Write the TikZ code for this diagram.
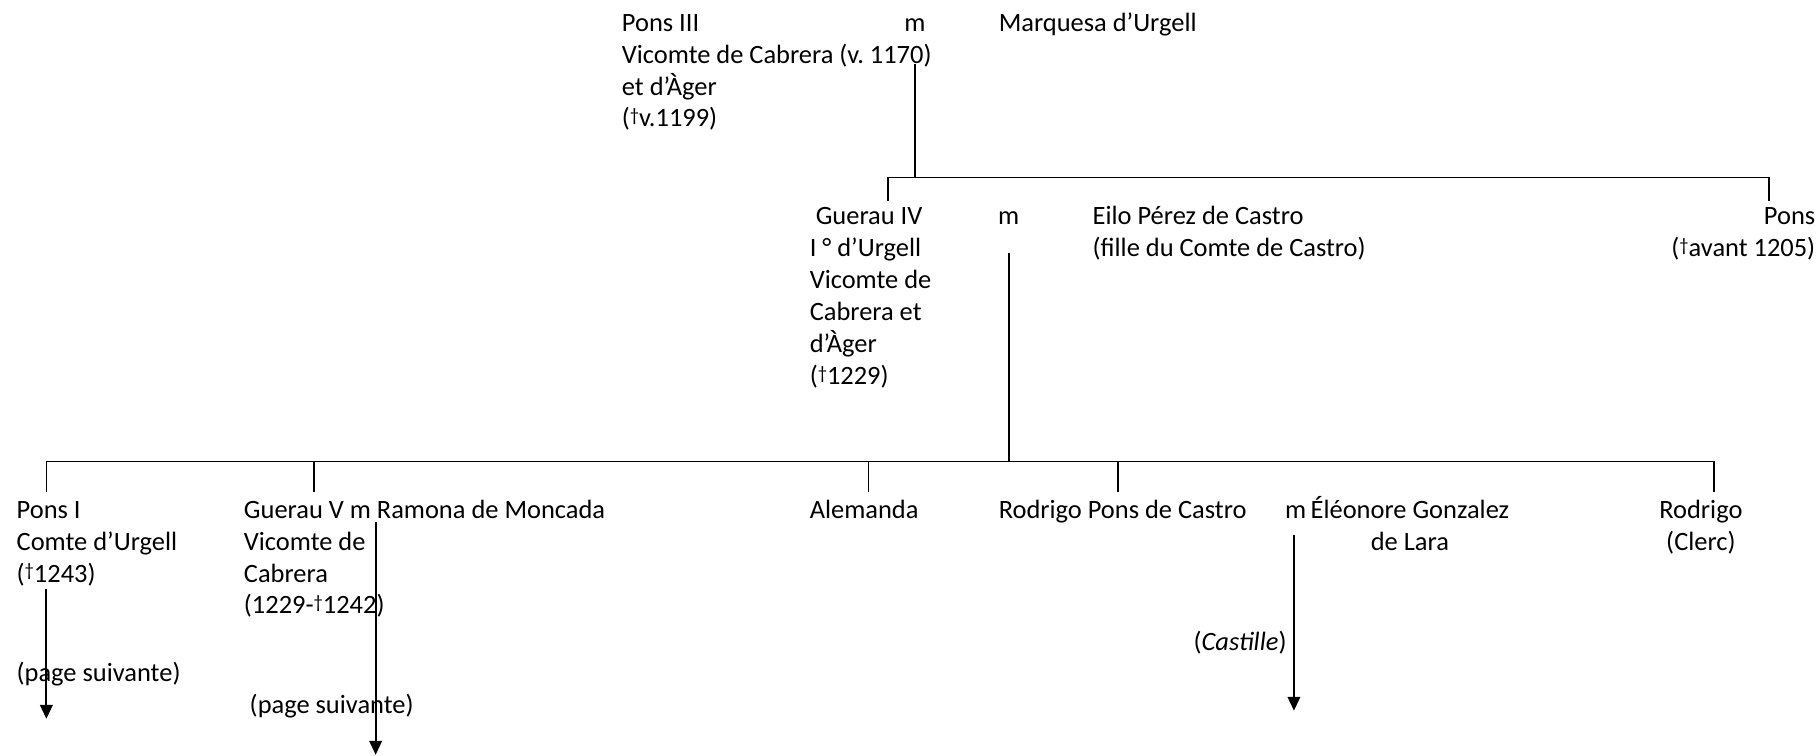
\documentclass[tikz,border=0pt]{standalone}
\usepackage{fontspec}
\setmainfont{Carlito}
\usetikzlibrary{arrows.meta}
\frenchspacing
\newcommand{\obit}{{\fontsize{8pt}{8pt}\selectfont\raisebox{2.2pt}{†}}}
\tikzstyle{person} = [inner sep=0pt, align=left, anchor=base west, font=\fontsize{11.4pt}{13.75pt}\selectfont]
\tikzstyle{marr} = [inner sep=0pt, anchor=base, font=\fontsize{11.4pt}{13.75pt}\selectfont]
\tikzstyle{link} = [line width=0.75pt]
\tikzstyle{down} = [line width=0.9pt, -{Triangle[width=5.4pt,length=6pt]}]

\begin{document}
\begin{tikzpicture}[x=0.5pt,y=-0.5pt]
\useasboundingbox (0,0) rectangle (1568,652);

% base of a node = baseline of its last line
\node[person] (pons3) at (536,109.5) {Pons III\\Vicomte de Cabrera (v. 1170)\\et d’Àger\\(\obit v.1199)};
\node[marr] (m1) at (789,27) {m};
\node[person] (marquesa) at (861,27) {Marquesa d’Urgell};

\node[person] (guerau4) at (698,331.5) {\hspace*{2.6pt}Guerau IV\\I ° d’Urgell\\Vicomte de\\Cabrera et\\d’Àger\\(\obit 1229)};
\node[marr] (m2) at (870,194) {m};
\node[person] (eilo) at (942,221.5) {Eilo Pérez de Castro\\(fille du Comte de Castro)};
\node[person, align=right, anchor=base east] (pons) at (1566,221.5) {Pons\\(\obit avant 1205)};

\node[person] (pons1) at (14,502) {Pons I\\Comte d’Urgell\\(\obit 1243)};
\node[person] (guerau5) at (210,529.5) {Guerau V m Ramona de Moncada\\Vicomte de\\Cabrera\\(1229-\obit 1242)};
\node[person] (alemanda) at (698,447) {Alemanda};
\node[person] (rodrigopc) at (861,447) {Rodrigo Pons de Castro};
\node[marr, anchor=base west] (m3) at (1108,447) {m};
\node[person, align=center, anchor=base] (eleonore) at (1216,474.5) {Éléonore Gonzalez\\de Lara};
\node[person, align=center, anchor=base] (rodrigo) at (1467,474.5) {Rodrigo\\(Clerc)};

\node[person] (suite1) at (14,588) {(page suivante)};
\node[person] (suite2) at (215,615) {(page suivante)};
\node[person, anchor=base east] (castille) at (1110,561) {(\textit{Castille})};

% first marriage
\coordinate (a1) at (789,55);
\coordinate (b1) at (789,153);
\coordinate (g4top) at (766,173);
\coordinate (ponstop) at (1526,173);
\draw[link] (a1) -- (b1);
\draw[link] (g4top) -- (g4top |- b1) -- (ponstop |- b1) -- (ponstop);

% second marriage
\coordinate (a2) at (870,218);
\coordinate (b2) at (870,398);
\coordinate (p1top) at (40,424);
\coordinate (g5top) at (271,424);
\coordinate (altop) at (749,424);
\coordinate (rpctop) at (964,424);
\coordinate (rtop) at (1478,424);
\draw[link] (a2) -- (b2);
\draw[link] (p1top) -- (p1top |- b2) -- (rtop |- b2) -- (rtop);
\draw[link] (g5top) -- (g5top |- b2);
\draw[link] (altop) -- (altop |- b2);
\draw[link] (rpctop) -- (rpctop |- b2);

% to next page
\coordinate (p1a) at (40,508);
\coordinate (p1b) at (40,620);
\coordinate (g5a) at (324,450);
\coordinate (g5b) at (324,651);
\coordinate (ca) at (1116,461);
\coordinate (cb) at (1116,613);
\draw[down] (p1a) -- (p1b);
\draw[down] (g5a) -- (g5b);
\draw[down] (ca) -- (cb);
\end{tikzpicture}
\end{document}
